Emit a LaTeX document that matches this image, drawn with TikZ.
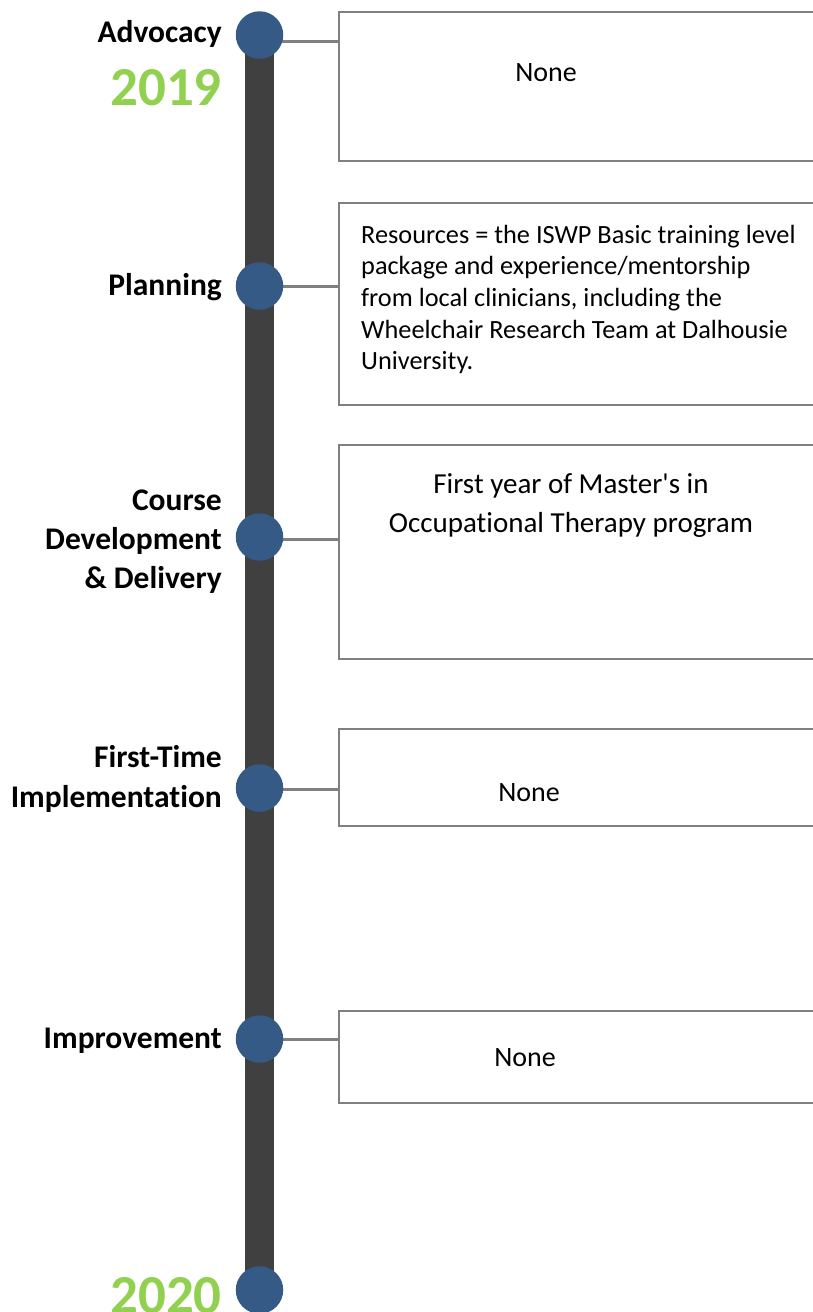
\documentclass[tikz,border=0pt]{standalone}
\usepackage{fontspec}
\setmainfont{Carlito}[Ligatures={NoCommon}]
\usetikzlibrary{calc,backgrounds}
\definecolor{barcol}{HTML}{404040}
\definecolor{dotcol}{HTML}{355A86}
\definecolor{yearcol}{HTML}{92D050}
\definecolor{linecol}{HTML}{808080}
\begin{document}
\begin{tikzpicture}[x=1pt,y=-1pt,
  dot/.style={circle, fill=dotcol, minimum size=47.5pt, inner sep=0, outer sep=0},
  box/.style={draw=linecol, line width=2pt, anchor=north west, inner sep=0, outer sep=0, minimum width=491pt},
  conn/.style={draw=linecol, line width=3pt},
  spine/.style={draw=barcol, line width=29pt},
  lbl/.style={anchor=base east, inner sep=0, font=\fontsize{31.5}{39}\selectfont\bfseries},
  year/.style={anchor=base east, inner sep=0, text=yearcol, font=\fontsize{55}{60}\selectfont\bfseries},
  txt/.style={anchor=base, inner sep=0, font=\fontsize{28}{34}\selectfont}]
\useasboundingbox (0,0) rectangle (813,1312);
\clip (0,0) rectangle (813,1312);

% milestones
\node[dot] (c1) at (259.5,35) {};
\node[dot] (c2) at (259.5,286) {};
\node[dot] (c3) at (259.5,537) {};
\node[dot] (c4) at (259.5,788) {};
\node[dot] (c5) at (259.5,1039) {};
\node[dot] (c6) at (259.5,1290) {};

% boxes
\node[box, minimum height=149pt] (b1) at (339,12) {};
\node[box, minimum height=202pt] (b2) at (339,203) {};
\node[box, minimum height=214pt] (b3) at (339,445) {};
\node[box, minimum height=97pt] (b4) at (339,729) {};
\node[box, minimum height=92pt] (b5) at (339,1011) {};

% connector start points
\coordinate (p1) at ($(c1.center)+(0,6)$);
\coordinate (p2) at ($(c2.center)+(0,0)$);
\coordinate (p3) at ($(c3.center)+(0,2)$);
\coordinate (p4) at ($(c4.center)+(0,1)$);
\coordinate (p5) at ($(c5.center)+(0,0)$);

\begin{scope}[on background layer]
\draw[spine] (c1.center) -- (c6.center);
\draw[conn] (p1) -- (p1 -| b1.west);
\draw[conn] (p2) -- (p2 -| b2.west);
\draw[conn] (p3) -- (p3 -| b3.west);
\draw[conn] (p4) -- (p4 -| b4.west);
\draw[conn] (p5) -- (p5 -| b5.west);
\end{scope}

% labels
\node[lbl] (l1) at (222,42) {Advocacy};
\node[year] (y1) at (222,105) {2019};
\node[lbl] (l2) at (222,295) {Planning};
\node[lbl] (l3) at (222,510) {\parbox[t]{260pt}{\raggedleft Course\\Development\\\& Delivery}};
\node[lbl] (l4) at (222,767) {\parbox[t]{260pt}{\raggedleft\baselineskip=40pt First-Time\\Implementation}};
\node[lbl] (l5) at (222,1048) {Improvement};
\node[year] (y2) at (222,1313) {2020};

% box texts
\node[txt] (t1) at (546,81) {None};
\node[txt, anchor=base west, font=\fontsize{26.3}{31.7}\selectfont] (t2) at (361,243) {\parbox[t]{470pt}{\raggedright Resources = the ISWP Basic training level\\package and experience/mentorship\\from local clinicians, including the\\Wheelchair Research Team at Dalhousie\\University.}};
\node[txt, font=\fontsize{29}{39}\selectfont] (t3) at (571,493) {\parbox[t]{420pt}{\centering First year of Master\textquotesingle s in\\Occupational Therapy program}};
\node[txt] (t4) at (529,801) {None};
\node[txt] (t5) at (525,1066) {None};
\end{tikzpicture}
\end{document}
